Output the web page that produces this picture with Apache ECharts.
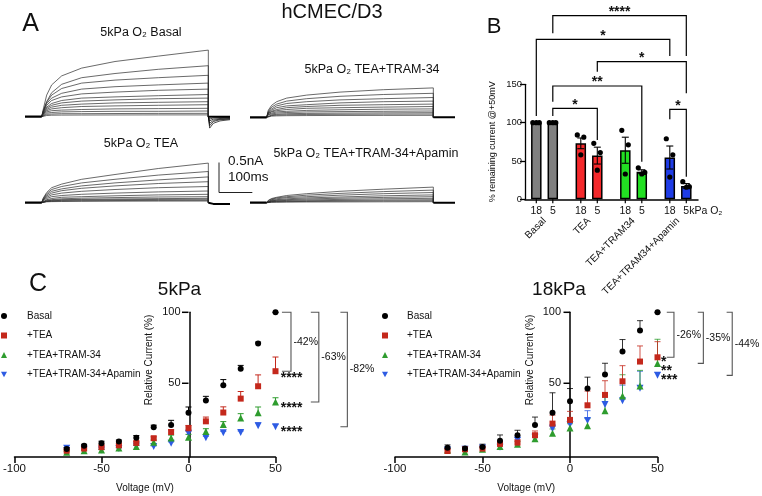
<!DOCTYPE html>
<html><head><meta charset="utf-8">
<script src="https://cdn.jsdelivr.net/npm/echarts@6/dist/echarts.min.js"></script>
<style>html,body{margin:0;padding:0;background:#fff}#c{width:762px;height:496px}</style>
</head><body><div id="c"></div>
<script>
// ---------- Panel A: current traces (time in ms, current in nA) ----------
const traceTimes = [0, 5, 15, 30, 60, 120, 220, 350, 500, 500];
const preTimes = [-50, 0];
const preValues = [0, 0];
const tailTimes = [500, 504, 515, 535, 565];
const basalTraces = [
  [0, 0.13, 0.36, 0.53, 0.68, 0.81, 0.92, 1.01, 1.11, 0],
  [0, 0.10, 0.25, 0.40, 0.54, 0.65, 0.72, 0.79, 0.85, 0],
  [0, 0.10, 0.24, 0.36, 0.47, 0.56, 0.61, 0.65, 0.69, 0],
  [0, 0.09, 0.22, 0.31, 0.39, 0.46, 0.50, 0.53, 0.56, 0],
  [0, 0.08, 0.19, 0.27, 0.33, 0.38, 0.41, 0.44, 0.46, 0],
  [0, 0.07, 0.16, 0.22, 0.27, 0.31, 0.33, 0.35, 0.37, 0],
  [0, 0.06, 0.14, 0.19, 0.23, 0.26, 0.28, 0.30, 0.31, 0],
  [0, 0.05, 0.12, 0.16, 0.19, 0.21, 0.23, 0.24, 0.25, 0],
  [0, 0.05, 0.10, 0.13, 0.15, 0.17, 0.18, 0.19, 0.20, 0],
  [0, 0.04, 0.08, 0.10, 0.11, 0.12, 0.13, 0.135, 0.14, 0],
  [0, 0.03, 0.06, 0.07, 0.08, 0.085, 0.09, 0.09, 0.095, 0],
  [0, 0.02, 0.04, 0.045, 0.05, 0.05, 0.053, 0.055, 0.056, 0],
  [0, 0.01, 0.02, 0.025, 0.027, 0.028, 0.029, 0.03, 0.03, 0]
];
const basalTails = [
  [0, -0.19, -0.11, -0.07, -0.05],
  [0, -0.15, -0.08, -0.05, -0.04],
  [0, -0.11, -0.06, -0.04, -0.03],
  [0, -0.07, -0.04, -0.03, -0.02],
  [0, -0.04, -0.02, -0.015, -0.01],
  [0, 0, 0, 0, 0]
];
const teaTraces = [
  [0, 0.08, 0.17, 0.25, 0.31, 0.39, 0.47, 0.57, 0.66, 0],
  [0, 0.07, 0.15, 0.22, 0.27, 0.33, 0.39, 0.46, 0.52, 0],
  [0, 0.06, 0.13, 0.19, 0.23, 0.28, 0.33, 0.38, 0.43, 0],
  [0, 0.05, 0.11, 0.16, 0.20, 0.24, 0.28, 0.32, 0.35, 0],
  [0, 0.05, 0.09, 0.13, 0.16, 0.19, 0.22, 0.25, 0.27, 0],
  [0, 0.04, 0.07, 0.10, 0.12, 0.14, 0.16, 0.18, 0.195, 0],
  [0, 0.03, 0.05, 0.07, 0.09, 0.10, 0.115, 0.13, 0.14, 0],
  [0, 0.02, 0.04, 0.05, 0.065, 0.075, 0.085, 0.095, 0.10, 0],
  [0, 0.02, 0.03, 0.04, 0.05, 0.055, 0.062, 0.068, 0.073, 0],
  [0, 0.015, 0.025, 0.03, 0.04, 0.045, 0.05, 0.054, 0.057, 0],
  [0, 0.01, 0.02, 0.025, 0.03, 0.033, 0.036, 0.038, 0.04, 0],
  [0, 0.01, 0.015, 0.018, 0.02, 0.023, 0.025, 0.027, 0.028, 0]
];
const teaTails = [[0, -0.02, -0.02, -0.02, -0.02]];
const tramTraces = [
  [0, 0.12, 0.20, 0.26, 0.32, 0.37, 0.42, 0.46, 0.49, 0],
  [0, 0.10, 0.17, 0.22, 0.27, 0.31, 0.35, 0.38, 0.40, 0],
  [0, 0.09, 0.14, 0.19, 0.23, 0.26, 0.29, 0.31, 0.33, 0],
  [0, 0.08, 0.12, 0.16, 0.19, 0.21, 0.24, 0.26, 0.27, 0],
  [0, 0.07, 0.10, 0.13, 0.16, 0.18, 0.20, 0.21, 0.22, 0],
  [0, 0.06, 0.09, 0.11, 0.13, 0.15, 0.16, 0.17, 0.18, 0],
  [0, 0.05, 0.07, 0.09, 0.10, 0.115, 0.125, 0.135, 0.14, 0],
  [0, 0.04, 0.055, 0.07, 0.08, 0.09, 0.095, 0.10, 0.105, 0],
  [0, 0.03, 0.04, 0.05, 0.06, 0.065, 0.07, 0.074, 0.077, 0],
  [0, 0.02, 0.03, 0.037, 0.043, 0.047, 0.05, 0.053, 0.055, 0],
  [0, 0.015, 0.02, 0.024, 0.027, 0.029, 0.031, 0.032, 0.033, 0]
];
const tramTails = [[0, 0, 0, 0, 0]];
const apaTraces = [
  [0, 0.04, 0.07, 0.09, 0.12, 0.15, 0.19, 0.225, 0.26, 0],
  [0, 0.035, 0.06, 0.08, 0.10, 0.125, 0.155, 0.185, 0.21, 0],
  [0, 0.03, 0.05, 0.065, 0.085, 0.10, 0.125, 0.15, 0.17, 0],
  [0, 0.025, 0.04, 0.05, 0.065, 0.08, 0.095, 0.115, 0.13, 0],
  [0, 0.02, 0.032, 0.04, 0.05, 0.062, 0.075, 0.088, 0.10, 0],
  [0, 0.015, 0.025, 0.03, 0.038, 0.046, 0.055, 0.065, 0.073, 0],
  [0, 0.01, 0.018, 0.022, 0.027, 0.032, 0.038, 0.045, 0.05, 0],
  [0, 0.008, 0.012, 0.015, 0.018, 0.021, 0.025, 0.03, 0.033, 0],
  [0, 0.005, 0.007, 0.008, 0.01, 0.012, 0.013, 0.015, 0.017, 0]
];
const apaTails = [[0, 0, 0, 0, 0]];
const traceTitles = ['5kPa O₂ Basal', '5kPa O₂ TEA', '5kPa O₂ TEA+TRAM-34', '5kPa O₂ TEA+TRAM-34+Apamin'];
const scaleBar = {nA: 0.5, ms: 100, labelI: '0.5nA', labelT: '100ms'};

// ---------- Panel B: % remaining current @+50mV ----------
const bGroups = ['Basal', 'TEA', 'TEA+TRAM34', 'TEA+TRAM34+Apamin'];
const bTickLabels = ['18', '5'];
const bMean18 = [100, 73, 64, 54.5];
const bMean5 = [100, 57, 36, 17.5];
const bSem18 = [0, 7, 17, 15];
const bSem5 = [0, 11, 2.5, 3];
const bDots18 = [[100, 100, 100], [84, 81, 58], [90, 71, 33], [79, 58, 29]];
const bDots5 = [[100, 100, 100], [73, 61, 38], [41, 35, 33], [23, 16.5, 15.7]];
// significance: [fromBar, toBar, topValue, leftLegEnd, rightLegEnd, stars]; bar index = group*2 + (0:18, 1:5)
const bSig = [
  [1, 7, 239.5, 216.5, 187, '****'],
  [0, 6, 208.7, 108.6, 187, '*'],
  [3, 7, 179.5, 166.4, 138.3, '*'],
  [1, 5, 147.8, 127.3, 49, '**'],
  [1, 3, 118.7, 108.6, 77.3, '*'],
  [6, 7, 117.4, 104.3, 29.5, '*']
];

// ---------- Panel C: relative current vs voltage ----------
const voltages = [-70, -60, -50, -40, -30, -20, -10, 0, 10, 20, 30, 40, 50];
const seriesNames = ['Basal', '+TEA', '+TEA+TRAM-34', '+TEA+TRAM-34+Apamin'];
const cYTicks = [50, 100];
const basal5 = [3.7, 6, 7.7, 9, 11.7, 19, 20.6, 29.3, 37.8, 48.6, 60.3, 78, 100];
const basal5Err = [1, 1, 1.5, 1, 1.5, 1.5, 3.3, 4, 3, 4, 2.3, 1, 0];
const tea5 = [2.5, 4, 5, 6.3, 8, 11.3, 15.7, 18.3, 23.2, 29.4, 39.2, 47.9, 58.5];
const tea5Err = [0.5, 1, 1, 1, 1, 1, 1.5, 2, 3, 4, 5, 8, 10];
const tram5 = [1.5, 2.5, 3, 4.4, 5.4, 8.5, 11.5, 12, 16, 21, 25.6, 29.3, 36.8];
const tram5Err = [0.5, 0.5, 0.5, 0.5, 1, 1.5, 2, 2, 2, 2, 3, 4, 3];
const apa5 = [4.2, 3.5, 3, 4, 5.8, 5.4, 7.7, 14.8, 11.7, 15.2, 15.4, 20.1, 19.4];
const apa5Err = [0.5, 0.5, 0.5, 0.5, 0.5, 0.5, 1, 1.5, 1, 1, 1, 2, 1.5];
const basal18 = [4.6, 4, 5.1, 9.6, 13.4, 20.6, 29.3, 37.3, 46.3, 56.1, 72.3, 87.1, 100];
const basal18Err = [2, 1.5, 2, 4, 3.5, 5.6, 14, 9, 8, 8, 8.5, 7, 0];
const tea18 = [2.3, 3.5, 4, 7.3, 8.2, 13.4, 21.6, 24.2, 34.5, 41.8, 51.4, 65.3, 68.3];
const tea18Err = [1, 1, 1, 2, 2, 3, 6, 6, 10, 10, 11, 11, 11];
const tram18 = [3, 1.6, 3.5, 5.4, 7, 11, 14.8, 18.5, 20.1, 30.7, 41, 48.1, 64];
const tram18Err = [1, 1, 1, 1.5, 2, 2, 3, 3, 5, 11, 15, 11, 17];
const apa18 = [3, 3.5, 4.4, 5, 9.9, 12, 18, 21, 23.7, 35, 37.7, 46.5, 55.6];
const apa18Err = [1, 1, 1, 1, 2, 2, 3, 3, 7, 6, 11, 12, 2];
const c5Notes = {pct: ['-42%', '-63%', '-82%'], stars: ['****', '****', '****']};
const c18Notes = {pct: ['-26%', '-35%', '-44%'], stars: ['*', '**', '***']};

// ================= build =================
const FONT = '"Liberation Sans", Arial, Helvetica, sans-serif';
const chart = echarts.init(document.getElementById('c'), null, {renderer: 'canvas', width: 762, height: 496});

const C_W = 262.5;
const grids = [
  {left: 25, top: 44.7, width: 205, height: 90},      // 0 basal traces
  {left: 25, top: 130.7, width: 205, height: 90},     // 1 TEA traces
  {left: 250, top: 45.3, width: 205, height: 90},     // 2 TRAM traces
  {left: 250, top: 130.7, width: 205, height: 90},    // 3 Apamin traces
  {left: 525, top: 84.3, width: 173, height: 115},    // 4 B axes
  {left: 522.3, top: 84.3, width: 178, height: 115},  // 5 B bars
  {left: 13, top: 312.3, width: C_W, height: 144.8},  // 6 C 5kPa
  {left: 395, top: 312.3, width: C_W, height: 144.8}  // 7 C 18kPa
];
const hiddenX = i => ({type: 'value', gridIndex: i, min: -50, max: 565, show: false});
const hiddenY = i => ({type: 'value', gridIndex: i, min: -0.3, max: 1.2, show: false});
const axLine = {lineStyle: {color: '#000', width: 1.5}};
const xAxes = [hiddenX(0), hiddenX(1), hiddenX(2), hiddenX(3),
  {type: 'value', gridIndex: 4, min: 0, max: 1, axisLine: axLine, axisTick: {show: false}, axisLabel: {show: false}, splitLine: {show: false}},
  {type: 'category', gridIndex: 5, data: bGroups, axisLine: {show: false}, axisTick: {show: false},
   axisLabel: {rotate: 45, margin: 20, fontSize: 10, color: '#111', fontFamily: FONT, interval: 0}},
];
const yAxes = [hiddenY(0), hiddenY(1), hiddenY(2), hiddenY(3),
  {type: 'value', gridIndex: 4, min: 0, max: 150, interval: 50, axisLine: {show: true, lineStyle: {color: '#000', width: 1.3}},
   axisTick: {show: true, length: 5, lineStyle: {color: '#000', width: 1.3}}, splitLine: {show: false},
   axisLabel: {fontSize: 9.5, color: '#111', margin: 3, fontFamily: FONT},
   name: '% remaining current @+50mV', nameLocation: 'middle', nameGap: 28, nameTextStyle: {fontSize: 9, color: '#111', fontFamily: FONT}},
  {type: 'value', gridIndex: 5, min: 0, max: 150, show: false}
];
const X_MIN = -100, X_MAX = 50;
[6, 7].forEach(gi => {
  xAxes.push({type: 'value', gridIndex: gi, min: X_MIN, max: X_MAX, interval: 50,
    axisLine: {onZero: false, lineStyle: {color: '#000', width: 1.5}},
    axisTick: {length: 6, lineStyle: {color: '#000', width: 1.5}}, splitLine: {show: false},
    axisLabel: {fontSize: 11.5, color: '#111', margin: 6, fontFamily: FONT},
    name: 'Voltage (mV)', nameLocation: 'middle', nameGap: 26, nameTextStyle: {fontSize: 10, color: '#111', fontFamily: FONT}});
  // y axis sits at x = 0: shift it inward from the grid's left edge
  yAxes.push({type: 'value', gridIndex: gi, min: -2, max: 100,
    offset: -C_W * (0 - X_MIN) / (X_MAX - X_MIN),
    axisLine: {onZero: false, lineStyle: {color: '#000', width: 1.5}},
    axisTick: {show: false},
    axisLabel: {customValues: cYTicks, fontSize: 11, color: '#111', margin: 9, fontFamily: FONT},
    splitLine: {show: false}});
});

const series = [];
function lineSeries(gi, times, vals, width, color, z) {
  series.push({type: 'line', xAxisIndex: gi, yAxisIndex: gi, data: times.map((t, i) => [t, vals[i]]),
    showSymbol: false, symbol: 'none', silent: true, z: z, lineStyle: {width: width, color: color}});
}
[[basalTraces, basalTails], [teaTraces, teaTails], [tramTraces, tramTails], [apaTraces, apaTails]].forEach((p, gi) => {
  lineSeries(gi, preTimes, preValues, 2.2, '#000', 3);
  p[0].forEach(a => lineSeries(gi, traceTimes, a, 0.7, '#2a2a2a', 2));
  p[1].forEach((a, k) => lineSeries(gi, tailTimes, a, k === p[1].length - 1 ? 2 : 0.7, '#000', 2));
});

// Panel B bars
const groupColors = ['#808080', '#f4282b', '#22e022', '#1f3ce6'];
const BAR_OFF = 8.25;
[bMean18, bMean5].forEach(means => {
  series.push({type: 'bar', xAxisIndex: 5, yAxisIndex: 5, barWidth: 10.5, barGap: '57%', silent: true, z: 2,
    data: means.map((v, i) => ({value: v, itemStyle: {color: groupColors[i]}})),
    itemStyle: {borderColor: '#000', borderWidth: 1.5}});
});
[[bMean18, bSem18, bDots18, -BAR_OFF], [bMean5, bSem5, bDots5, BAR_OFF]].forEach(([means, sems, dots, off]) => {
  series.push({type: 'custom', xAxisIndex: 5, yAxisIndex: 5, z: 4, silent: true,
    data: means.map((m, i) => [i, m, sems[i]]),
    renderItem: (params, api) => {
      const c = api.coord([api.value(0), api.value(1)]);
      const x = c[0] + off;
      const up = api.coord([api.value(0), api.value(1) + api.value(2)])[1];
      const dn = api.coord([api.value(0), api.value(1) - api.value(2)])[1];
      const st = {stroke: '#000', lineWidth: 1.1};
      return {type: 'group', children: [
        {type: 'line', shape: {x1: x, y1: up, x2: x, y2: dn}, style: st},
        {type: 'line', shape: {x1: x - 3.5, y1: up, x2: x + 3.5, y2: up}, style: st},
        {type: 'line', shape: {x1: x - 3.5, y1: dn, x2: x + 3.5, y2: dn}, style: st}]};
    }});
  const jitter = [-3.5, 3, 0];
  series.push({type: 'custom', xAxisIndex: 5, yAxisIndex: 5, z: 5, silent: true,
    data: dots.map((d, i) => [i, d[0], d[1], d[2]]),
    renderItem: (params, api) => {
      const ch = [];
      for (let k = 0; k < 3; k++) {
        const c = api.coord([api.value(0), api.value(k + 1)]);
        ch.push({type: 'circle', shape: {cx: c[0] + off + jitter[k], cy: c[1], r: 2.6}, style: {fill: '#000'}});
      }
      return {type: 'group', children: ch};
    }});
});

// Panel C
const cColors = ['#000000', '#c4281c', '#2e9c2e', '#2d5be3'];
const cSymbols = ['circle', 'rect', 'triangle', 'path://M0,0 L10,0 L5,9 Z'];
const cSizes = [6, 6, 7, 7];
const c5 = [[basal5, basal5Err], [tea5, tea5Err], [tram5, tram5Err], [apa5, apa5Err]];
const c18 = [[basal18, basal18Err], [tea18, tea18Err], [tram18, tram18Err], [apa18, apa18Err]];
[[c5, 6], [c18, 7]].forEach(([sets, gi]) => {
  [3, 2, 1, 0].forEach(k => {
    const [means, errs] = sets[k];
    const color = cColors[k];
    series.push({type: 'custom', xAxisIndex: gi, yAxisIndex: gi, z: 3, silent: true,
      data: voltages.map((v, i) => [v, means[i], errs[i]]),
      renderItem: (params, api) => {
        const p0 = api.coord([api.value(0), api.value(1)]);
        const p1 = api.coord([api.value(0), api.value(1) + api.value(2)]);
        const st = {stroke: color, lineWidth: 1, opacity: gi === 7 ? 0.8 : 1};
        return {type: 'group', children: [
          {type: 'line', shape: {x1: p0[0], y1: p0[1], x2: p1[0], y2: p1[1]}, style: st},
          {type: 'line', shape: {x1: p1[0] - 3, y1: p1[1], x2: p1[0] + 3, y2: p1[1]}, style: st}]};
      }});
  });
  [3, 2, 1, 0].forEach(k => {
    series.push({type: 'scatter', name: seriesNames[k], xAxisIndex: gi, yAxisIndex: gi, z: 4, silent: true,
      symbol: cSymbols[k], symbolSize: cSizes[k], itemStyle: {color: cColors[k], opacity: 1},
      data: voltages.map((v, i) => [v, sets[k][0][i]])});
  });
});

const legendData = seriesNames.map((n, k) => ({name: n, icon: cSymbols[k]}));
const legendBase = {orient: 'vertical', top: 310, itemWidth: 6, itemHeight: 6, itemGap: 7.5, padding: 0,
  selectedMode: false, data: legendData, textStyle: {fontSize: 10, lineHeight: 12, color: '#111', fontFamily: FONT, padding: [0, 0, 0, 15]}};

chart.setOption({
  animation: false,
  grid: grids,
  xAxis: xAxes,
  yAxis: yAxes,
  legend: [Object.assign({}, legendBase, {left: 1}),
           Object.assign({}, legendBase, {left: 382, textStyle: Object.assign({}, legendBase.textStyle, {padding: [0, 0, 0, 14]})})],
  series: series
});

// ================= annotations =================
const G = [];
const T = (x, y, text, size, opts) => G.push(Object.assign({type: 'text', x: x, y: y, silent: true,
  style: Object.assign({text: text, fontSize: size, fontFamily: FONT, fill: '#111', align: 'center', verticalAlign: 'middle'}, (opts && opts.style) || {})},
  opts && opts.rotation ? {rotation: opts.rotation} : {}));
const P = (pts, color, w) => G.push({type: 'polyline', silent: true, shape: {points: pts}, style: {stroke: color || '#000', lineWidth: w || 1.2, fill: 'none'}});
const px = (gi, v) => chart.convertToPixel({gridIndex: gi}, v);

// panel letters / titles
T(30.5, 24.5, 'A', 25);
T(494, 26.5, 'B', 22);
T(38, 284.5, 'C', 25);
T(332, 12.5, 'hCMEC/D3', 20);
T(141, 33, traceTitles[0], 12.5);
T(141, 144, traceTitles[1], 12.5);
T(372, 69.5, traceTitles[2], 12.5);
T(366, 153.5, traceTitles[3], 12.5);

// scale bar in TEA panel coordinates
{
  const o = px(1, [532, 0.17]);
  const top = px(1, [532, 0.17 + scaleBar.nA]);
  const right = px(1, [532 + scaleBar.ms, 0.17]);
  P([[top[0], top[1]], [o[0], o[1]], [right[0], o[1]]], '#222', 1);
  T(o[0] + 9, top[1] - 1, scaleBar.labelI, 13.5, {style: {align: 'left'}});
  T(o[0] + 9, top[1] + 15, scaleBar.labelT, 13.5, {style: {align: 'left'}});
}

// panel B tick labels under bars + ticks + significance
const barX = idx => px(5, [Math.floor(idx / 2), 0])[0] + (idx % 2 ? BAR_OFF : -BAR_OFF);
const bY = v => px(5, [0, v])[1];
const y0 = bY(0);
for (let i = 0; i < 8; i++) {
  const x = barX(i);
  P([[x, y0], [x, y0 + 4]], '#000', 1.2);
  if (i === 7) {
    T(x - 3, y0 + 12, bTickLabels[1] + 'kPa O₂', 10.5, {style: {align: 'left'}});
  } else {
    T(x, y0 + 12, bTickLabels[i % 2], 10.5);
  }
}
bSig.forEach(([a, b, top, l, r, s]) => {
  const xa = barX(a), xb = barX(b), yt = bY(top);
  P([[xa, bY(l)], [xa, yt], [xb, yt], [xb, bY(r)]], '#000', 1.2);
  T((xa + xb) / 2, yt - 3.5, s, 14, {style: {fontWeight: 'bold'}});
});

// panel C titles, y names, y ticks at x = 0
T(179.5, 290, '5kPa', 19);
T(559, 290, '18kPa', 19);
T(149, 360, 'Relative Current (%)', 10, {rotation: Math.PI / 2});
T(530.5, 360, 'Relative Current (%)', 10, {rotation: Math.PI / 2});
[6, 7].forEach(gi => cYTicks.forEach(v => {
  const p = px(gi, [0, v]);
  P([[p[0] - 6.5, p[1]], [p[0], p[1]]], '#000', 1.5);
}));

// panel C brackets
function cNotes(gi, topVal, bottoms, armX, notes, starX, starOff) {
  bottoms.forEach((bv, k) => {
    const [x0, x1] = armX[k];
    const pt = px(gi, [x0, topVal]);
    const pb = px(gi, [x0, bv]);
    const xr = px(gi, [x1, 0])[0];
    P([[pt[0], pt[1]], [xr, pt[1]], [xr, pb[1]], [pt[0], pb[1]]], '#555', 1.1);
    T(xr + 2.5, (pt[1] + pb[1]) / 2, notes.pct[k], 10.5, {style: {align: 'left'}});
    const ps = px(gi, [starX, bv]);
    T(ps[0], ps[1] + starOff[k] + 3.5, notes.stars[k], 14, {style: {align: 'left', fontWeight: 'bold'}});
  });
}
cNotes(6, basal5[12], [tea5[12], tram5[12], apa5[12]], [[53.7, 58.9], [70.3, 74.9], [87.3, 91.3]], c5Notes, 53, [3, 3, 2]);
cNotes(7, basal18[12], [tea18[12], tram18[12], apa18[12]], [[55.3, 59.4], [73, 76.2], [89.5, 92.7]], c18Notes, 52, [1, 4, 1]);

chart.setOption({graphic: {elements: G}});
</script></body></html>
